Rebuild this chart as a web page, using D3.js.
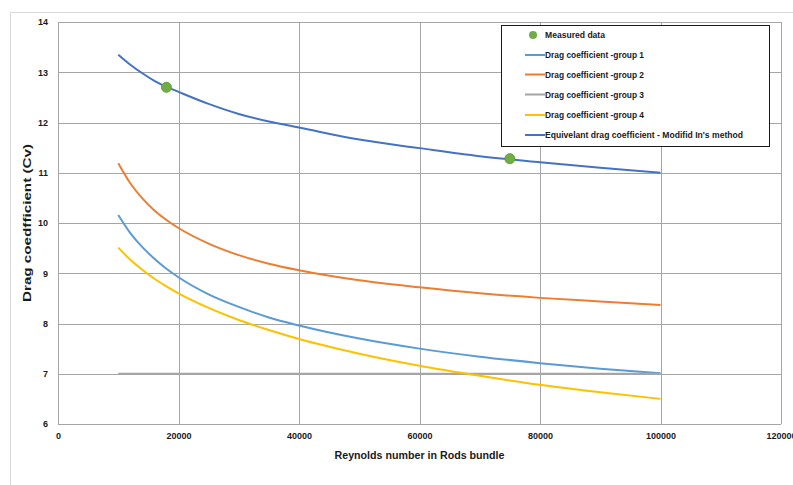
<!DOCTYPE html>
<html>
<head>
<meta charset="utf-8">
<script src="https://cdn.jsdelivr.net/npm/d3@7/dist/d3.min.js"></script>
<style>
  html, body { margin: 0; padding: 0; background: #fff; }
  svg { display: block; font-family: "Liberation Sans", Arial, sans-serif; }
</style>
</head>
<body>
<svg id="chart" width="793" height="485"></svg>
<script>
// Reynolds numbers at which the drag coefficients are tabulated
const reynolds = [10000, 12000, 14000, 16000, 18000, 20000, 25000, 30000, 35000,
                  40000, 50000, 60000, 70000, 80000, 90000, 100000];

// Drag coefficient per rod group
const group1 = [10.16, 9.80, 9.52, 9.29, 9.09, 8.92, 8.58, 8.33, 8.12,
                7.96, 7.70, 7.50, 7.34, 7.21, 7.10, 7.01];
const group2 = [11.19, 10.79, 10.49, 10.25, 10.06, 9.90, 9.59, 9.36, 9.19,
                9.06, 8.86, 8.72, 8.60, 8.51, 8.44, 8.37];
const group3 = [7.00, 7.00, 7.00, 7.00, 7.00, 7.00, 7.00, 7.00, 7.00,
                7.00, 7.00, 7.00, 7.00, 7.00, 7.00, 7.00];
const group4 = [9.51, 9.27, 9.07, 8.89, 8.74, 8.60, 8.31, 8.07, 7.87,
                7.69, 7.40, 7.16, 6.96, 6.78, 6.63, 6.50];
// Equivalent drag coefficient (modified In's method)
const equivalent = [13.35, 13.15, 12.98, 12.83, 12.71, 12.61, 12.37, 12.17, 12.02,
                    11.90, 11.66, 11.49, 11.33, 11.21, 11.10, 11.00];

// Measured points
const measuredRe = [18000, 75000];
const measuredCv = [12.70, 11.28];

// Axis ticks
const xTicks = [0, 20000, 40000, 60000, 80000, 100000, 120000];
const yTicks = [6, 7, 8, 9, 10, 11, 12, 13, 14];

const seriesNames = ["Drag coefficient -group 1", "Drag coefficient -group 2",
                     "Drag coefficient -group 3", "Drag coefficient -group 4",
                     "Equivelant drag coefficient - Modifid In's method"];
const seriesValues = [group1, group2, group3, group4, equivalent];
const seriesColors = ["#5B9BD5", "#ED7D31", "#A5A5A5", "#FFC000", "#4472C4"];
const measuredName = "Measured data";
const measuredColor = "#70AD47";

const svg = d3.select("#chart");

// outer chart frame
svg.append("rect")
  .attr("x", 10.5).attr("y", 12.5)
  .attr("width", 800).attr("height", 500)
  .attr("fill", "#fff").attr("stroke", "#d9d9d9").attr("stroke-width", 1);

const plot = { left: 58, right: 781, top: 22, bottom: 424 };

const x = d3.scaleLinear().domain([0, 120000]).range([plot.left, plot.right]);
const y = d3.scaleLinear().domain([6, 14]).range([plot.bottom, plot.top]);

// horizontal gridlines + left labels
const yAxis = d3.axisLeft(y).tickValues(yTicks)
  .tickSize(-(plot.right - plot.left)).tickPadding(10).tickFormat(d3.format("d"));
const gy = svg.append("g").attr("transform", `translate(${plot.left},0)`).call(yAxis);
gy.select(".domain").remove();
gy.selectAll(".tick line").attr("stroke", "#a6a6a6").attr("stroke-width", 1)
  .attr("shape-rendering", "crispEdges");
gy.selectAll(".tick text").attr("font-size", 9).attr("font-weight", "bold")
  .attr("fill", "#1a1a1a").attr("font-family", "Liberation Sans, Arial, sans-serif");

// vertical gridlines + bottom labels
const xAxis = d3.axisBottom(x).tickValues(xTicks)
  .tickSize(-(plot.bottom - plot.top)).tickPadding(9).tickFormat(d3.format("d"));
const gx = svg.append("g").attr("transform", `translate(0,${plot.bottom})`).call(xAxis);
gx.select(".domain").remove();
gx.selectAll(".tick line").attr("stroke", "#a6a6a6").attr("stroke-width", 1)
  .attr("shape-rendering", "crispEdges");
gx.selectAll(".tick text").attr("font-size", 9).attr("font-weight", "bold")
  .attr("fill", "#1a1a1a").attr("font-family", "Liberation Sans, Arial, sans-serif");

// series curves through the tabulated points
const line = d3.line()
  .x(d => x(d[0])).y(d => y(d[1]))
  .curve(d3.curveMonotoneX);

seriesValues.forEach((vals, i) => {
  svg.append("path")
    .datum(reynolds.map((r, k) => [r, vals[k]]))
    .attr("fill", "none")
    .attr("stroke", seriesColors[i])
    .attr("stroke-width", 2)
    .attr("d", line);
});

// measured points
svg.append("g").selectAll("circle")
  .data(measuredRe.map((r, k) => [r, measuredCv[k]]))
  .join("circle")
  .attr("cx", d => x(d[0])).attr("cy", d => y(d[1]))
  .attr("r", 5)
  .attr("fill", measuredColor)
  .attr("stroke", "#63a03c").attr("stroke-width", 1);

// axis titles
svg.append("text")
  .attr("x", (plot.left + plot.right) / 2).attr("y", 459)
  .attr("text-anchor", "middle")
  .attr("font-size", 10.5).attr("font-weight", "bold").attr("fill", "#1a1a1a")
  .attr("textLength", 170).attr("lengthAdjust", "spacingAndGlyphs")
  .text("Reynolds number in Rods bundle");

svg.append("text")
  .attr("transform", `translate(31,${(plot.top + plot.bottom) / 2}) rotate(-90)`)
  .attr("text-anchor", "middle")
  .attr("font-size", 10.5).attr("font-weight", "bold").attr("fill", "#1a1a1a")
  .attr("textLength", 158).attr("lengthAdjust", "spacingAndGlyphs")
  .text("Drag coedfficient (Cv)");

// legend
const legend = svg.append("g");
legend.append("rect")
  .attr("x", 501.5).attr("y", 25.5).attr("width", 268).attr("height", 121)
  .attr("fill", "#fff").attr("stroke", "#1a1a1a").attr("stroke-width", 1);

const legendRowY = [35, 55, 74.5, 94.5, 115, 135];
const legendTextLen = [60, 99, 99, 99, 99, 198];

legend.append("circle")
  .attr("cx", 533).attr("cy", legendRowY[0]).attr("r", 4)
  .attr("fill", measuredColor);
legend.append("text")
  .attr("x", 545).attr("y", legendRowY[0] + 3)
  .attr("font-size", 9).attr("font-weight", "bold").attr("fill", "#1a1a1a")
  .attr("textLength", legendTextLen[0]).attr("lengthAdjust", "spacingAndGlyphs")
  .text(measuredName);

seriesNames.forEach((name, i) => {
  const ly = legendRowY[i + 1];
  legend.append("line")
    .attr("x1", 525).attr("x2", 545).attr("y1", ly).attr("y2", ly)
    .attr("stroke", seriesColors[i]).attr("stroke-width", 2);
  legend.append("text")
    .attr("x", 545).attr("y", ly + 3)
    .attr("font-size", 9).attr("font-weight", "bold").attr("fill", "#1a1a1a")
    .attr("textLength", legendTextLen[i + 1]).attr("lengthAdjust", "spacingAndGlyphs")
    .text(name);
});
</script>
</body>
</html>
